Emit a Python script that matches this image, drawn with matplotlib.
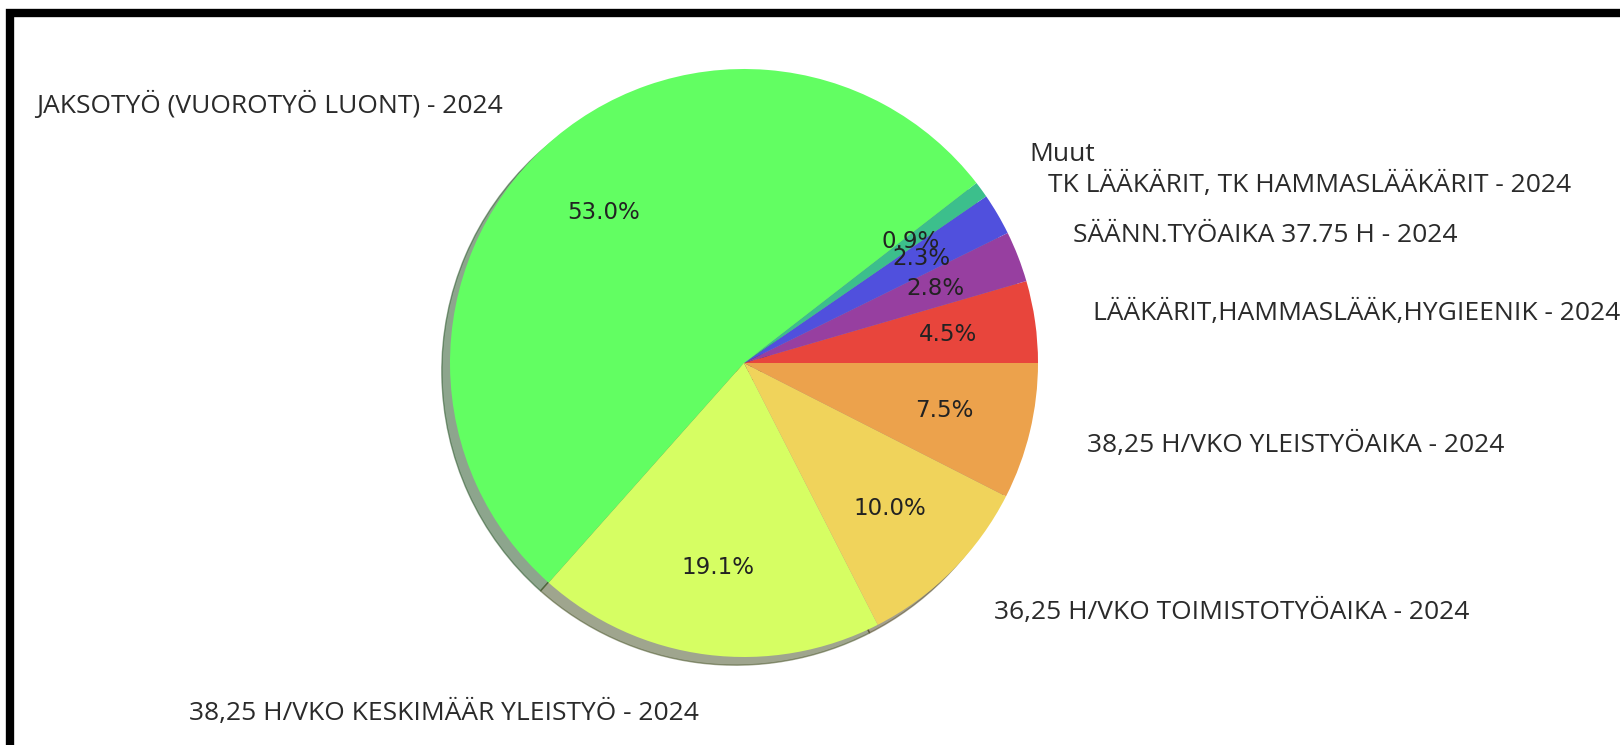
import matplotlib
matplotlib.use("Agg")
import matplotlib.pyplot as plt
from matplotlib.patches import Rectangle

labels = [
    "LÄÄKÄRIT,HAMMASLÄÄK,HYGIEENIK - 2024",
    "SÄÄNN.TYÖAIKA 37.75 H - 2024",
    "TK LÄÄKÄRIT, TK HAMMASLÄÄKÄRIT - 2024",
    "Muut",
    "JAKSOTYÖ (VUOROTYÖ LUONT) - 2024",
    "38,25 H/VKO KESKIMÄÄR YLEISTYÖ - 2024",
    "36,25 H/VKO TOIMISTOTYÖAIKA - 2024",
    "38,25 H/VKO YLEISTYÖAIKA - 2024",
]
values = [4.5, 2.8, 2.3, 0.9, 53.0, 19.1, 10.0, 7.5]
colors = ["#e8453c", "#973fa0", "#5050dd", "#3cbf8c",
          "#62fe62", "#d6fe63", "#f0d35b", "#eca24c"]

total = sum(values)

fig = plt.figure(figsize=(16.2, 7.45), dpi=100)
ax = fig.add_axes([376.5 / 1620, 14.5 / 745, 735 / 1620, 735 / 745])

wedges, texts, autotexts = ax.pie(
    values, labels=labels, colors=colors, startangle=0, counterclock=True,
    shadow=True, labeldistance=1.2, pctdistance=0.7,
    autopct=lambda p: f"{p * total / 100:.1f}%",
    textprops=dict(color="#333333"),
)
for t in texts:
    t.set_fontfamily("Open Sans")
    t.set_fontsize(19)
    t.set_color("#2a2a2a")
for t in autotexts:
    t.set_fontfamily("DejaVu Sans")
    t.set_fontsize(16.5)
    t.set_color("#222222")

ax.set_xlim(-1.25, 1.25)
ax.set_ylim(-1.25, 1.25)
ax.set_aspect("equal")
ax.axis("off")

# outer frame (right side runs off the image)
fig.patches.append(Rectangle((10 / 1620, -0.002), 1.1, (745 - 13 - (-1.5)) / 745,
                             transform=fig.transFigure, fill=False,
                             edgecolor="black", linewidth=6, zorder=10))

fig.savefig("out.png", dpi=100)
